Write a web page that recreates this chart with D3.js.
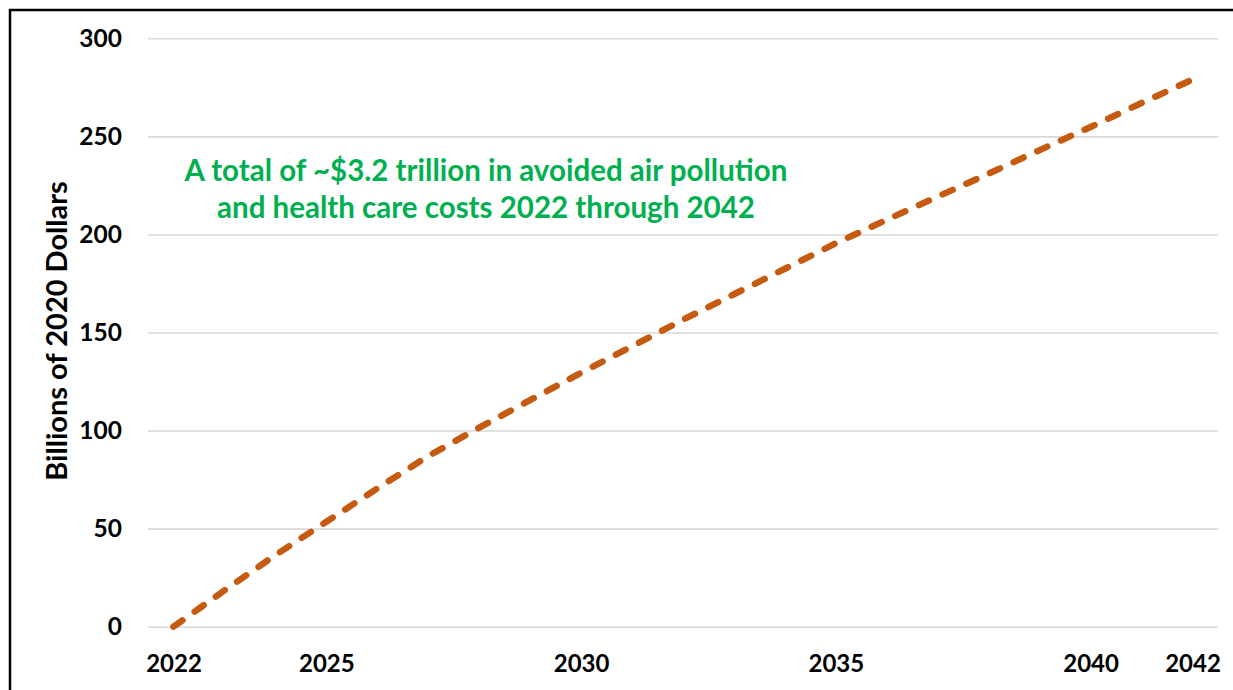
<!DOCTYPE html>
<html>
<head>
<meta charset="utf-8">
<script src="https://cdn.jsdelivr.net/npm/d3@7"></script>
<style>
  html, body { margin: 0; padding: 0; background: #fff; }
  svg { display: block; font-family: Lato, "Open Sans", sans-serif; }
</style>
</head>
<body>
<svg id="chart" width="1233" height="690"></svg>
<script>
// Annual avoided air-pollution and health-care costs (billions of 2020 dollars)
const years = d3.range(2022, 2043);
const costs = [0, 18.5, 36.5, 53.5, 70.5, 87, 101.5, 115.5, 129.5, 143, 156.5,
               169.5, 182.5, 195.5, 207.5, 219.3, 231, 243, 254.8, 267, 279];
const xTickYears = [2022, 2025, 2030, 2035, 2040, 2042];
const yTicks = [0, 50, 100, 150, 200, 250, 300];
const yTitle = "Billions of 2020 Dollars";
const noteLines = ["A total of ~$3.2 trillion in avoided air pollution",
                   "and health care costs 2022 through 2042"];

const svg = d3.select("#chart");

const x = d3.scalePoint().domain(years).range([148, 1218]).padding(0.5);
const y = d3.scaleLinear().domain([0, 300]).range([626.7, 38.3]);

// frame
svg.append("rect")
  .attr("x", 10).attr("y", 10).attr("width", 1240).attr("height", 700)
  .attr("fill", "none").attr("stroke", "#000").attr("stroke-width", 2.5);

// horizontal gridlines + y labels
const yAxis = d3.axisLeft(y).tickValues(yTicks).tickSize(-(1218 - 148)).tickPadding(26);
const gy = svg.append("g").attr("transform", "translate(148,0)").call(yAxis);
gy.select(".domain").remove();
gy.selectAll(".tick line").attr("stroke", "#d9d9d9").attr("stroke-width", 1.6);
gy.selectAll(".tick text")
  .attr("fill", "#000").attr("font-size", 24.5).attr("font-weight", 700)
  .attr("font-family", "Lato, sans-serif");

// x labels
const xAxis = d3.axisBottom(x).tickValues(xTickYears).tickSize(0).tickPadding(0);
const gx = svg.append("g").attr("transform", "translate(0,626.7)").call(xAxis);
gx.select(".domain").remove();
gx.selectAll(".tick text")
  .attr("dy", null).attr("y", 45)
  .attr("fill", "#000").attr("font-size", 24).attr("font-weight", 700)
  .attr("font-family", "Lato, sans-serif");

// y-axis title
svg.append("text")
  .attr("transform", "translate(67,331) rotate(-90)")
  .attr("text-anchor", "middle")
  .attr("font-size", 29).attr("font-weight", 700).attr("fill", "#000")
  .text(yTitle);

// annotation
const note = svg.append("text")
  .attr("text-anchor", "middle").attr("font-size", 29.5).attr("font-weight", 700)
  .attr("fill", "#00b050");
noteLines.forEach((t, i) => {
  note.append("tspan").attr("x", 486).attr("y", 181 + i * 37).text(t);
});

// cost line
const line = d3.line().x((d, i) => x(years[i])).y(d => y(d));
svg.append("path")
  .datum(costs)
  .attr("d", line)
  .attr("fill", "none")
  .attr("stroke", "#c55a11")
  .attr("stroke-width", 6.5)
  .attr("stroke-linecap", "round")
  .attr("stroke-dasharray", "11,15");
</script>
</body>
</html>
